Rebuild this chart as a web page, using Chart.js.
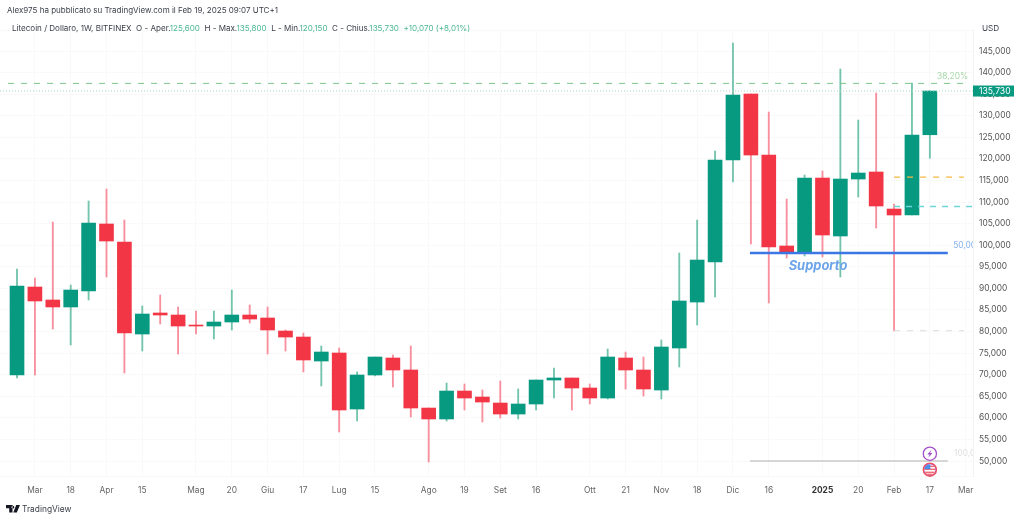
<!DOCTYPE html>
<html lang="it">
<head>
<meta charset="utf-8">
<title>Litecoin / Dollaro, 1W, BITFINEX</title>
<script src="https://cdn.jsdelivr.net/npm/chart.js@4"></script>
<style>
  html, body { margin: 0; padding: 0; background: #fff; }
  #wrap { position: relative; width: 1024px; height: 521px; overflow: hidden; font-family: Inter, "Noto Sans", sans-serif; color: #3a3e48; }
  #wrap canvas { position: absolute; left: 0; top: 0; }
  .line { position: absolute; white-space: pre; }
  #author { left: 7px; top: 4px; font-size: 8px; line-height: 13px; }
  #legend { left: 12px; top: 22px; font-size: 8.05px; line-height: 13px; }
  #legend span { color: #4cb894; }
  #usd { left: 982px; top: 22px; font-size: 8.2px; line-height: 13px; }
  #brand { left: 22px; top: 502px; font-size: 8.4px; line-height: 14px; }
  #logo { position: absolute; left: 6px; top: 505px; }
</style>
</head>
<body>
<div id="wrap">
  <canvas id="chart" width="1024" height="521"></canvas>
  <div class="line" id="author">Alex975 ha pubblicato su TradingView.com il Feb 19, 2025 09:07 UTC+1</div>
  <div class="line" id="legend">Litecoin / Dollaro, 1W, BITFINEX  O - Aper.<span>125,600</span>  H - Max.<span>135,800</span>  L - Min.<span>120,150</span>  C - Chius.<span>135,730</span>  <span>+10,070 (+8,01%)</span></div>
  <div class="line" id="usd">USD</div>
  <svg id="logo" width="14" height="8" viewBox="0 0 14 8"><path d="M0 0h6.5v7.5H3.2V3.2H0zM6.9 0.8a1.4 1.4 0 1 0 0.01 0zM10.2 0H14L10.8 7.5H7.3z" fill="#131722"/></svg>
  <div class="line" id="brand">TradingView</div>
</div>
<script>
const candleOpen = [69.93, 90.32, 87.31, 85.69, 89.39, 104.92, 100.75, 79.43, 84.3, 83.83, 81.51, 81.28, 82.21, 83.83, 83.14, 80.12, 78.73, 73.17, 75.03, 62.05, 69.93, 73.87, 71.09, 62.28, 59.74, 66.22, 64.83, 63.44, 60.89, 63.21, 68.77, 69.24, 66.92, 64.6, 73.87, 71.09, 66.45, 76.19, 86.84, 96.11, 119.74, 135.04, 120.9, 99.82, 98.43, 115.57, 102.14, 115.34, 116.97, 108.39, 107.0, 125.6];
const candleHigh = [94.49, 92.4, 105.38, 90.78, 110.25, 113.03, 105.84, 85.92, 88.47, 85.69, 84.76, 84.76, 89.62, 86.15, 85.69, 80.36, 79.66, 76.65, 76.19, 70.63, 74.1, 74.56, 76.65, 62.28, 68.08, 67.85, 66.45, 68.54, 66.69, 68.77, 71.55, 69.24, 67.85, 75.95, 75.26, 74.1, 78.04, 98.2, 105.84, 121.83, 146.85, 135.04, 130.87, 110.71, 116.27, 117.2, 140.83, 129.01, 135.27, 109.55, 137.59, 135.8];
const candleLow = [69.24, 69.93, 80.59, 76.88, 87.31, 92.64, 70.39, 75.49, 81.75, 74.8, 79.43, 78.27, 80.36, 81.98, 74.8, 75.49, 70.63, 67.38, 56.72, 59.27, 69.7, 67.15, 60.2, 49.77, 59.27, 61.82, 59.04, 59.97, 59.74, 61.82, 64.6, 61.82, 63.21, 64.37, 66.69, 65.06, 64.37, 71.78, 81.51, 88.0, 114.65, 100.28, 86.61, 97.04, 97.5, 97.27, 92.64, 111.17, 103.99, 80.12, 107.0, 120.15];
const candleClose = [90.55, 87.08, 85.69, 89.62, 105.15, 100.98, 79.66, 84.06, 83.83, 81.28, 81.28, 82.21, 83.83, 82.9, 80.36, 78.73, 73.41, 75.26, 61.82, 69.93, 74.1, 71.09, 62.28, 59.74, 66.22, 64.6, 63.67, 60.89, 63.21, 68.77, 69.24, 66.92, 64.6, 74.1, 71.09, 66.69, 76.42, 87.08, 96.57, 119.74, 134.8, 120.9, 99.59, 98.43, 115.57, 102.37, 115.34, 116.73, 109.09, 107.0, 125.54, 135.73];

const xTickIndexes = [1, 3, 5, 7, 10, 12, 14, 16, 18, 20, 23, 25, 27, 29, 32, 34, 36, 38, 40, 42, 45, 47, 49, 51, 53];
const xTickLabels = ["Mar", "18", "Apr", "15", "Mag", "20", "Giu", "17", "Lug", "15", "Ago", "19", "Set", "16", "Ott", "21", "Nov", "18", "Dic", "16", "2025", "20", "Feb", "17", "Mar"];

const levelValues = [137.5, 135.73, 115.8, 109, 80.2, 98.2, 50];
const levelStarts = [-0.5, -0.95, 49, 49, 49, 40.95, 40.95];
const levelEnds = [53.1, 53.41, 52.9, 53.41, 52.9, 52, 52];
const levelLabels = ["38,20%", "50,00%", "100,00%", "Supporto"];
const levelLabelX = [51.4, 52.3, 52.35, 44.75];
const levelLabelY = [139.2, 100.05, 51.7, 95.2];

const lastPrice = 135.73;
const eventIndex = 51;
const eventValues = [51.7, 48];

const UP = "#089981";
const DOWN = "#f23645";
const UP_WICK = "#74c4ad";
const DOWN_WICK = "#f78f9c";

const levelStyles = [
  { color: "#7cc48a", width: 1, dash: [6, 7] },
  { color: "#a6d8c6", width: 1, dash: [1, 2] },
  { color: "#f5b942", width: 1.2, dash: [6, 7] },
  { color: "#6fd4dc", width: 1.5, dash: [6, 6] },
  { color: "#dcdcdc", width: 1, dash: [6, 7] },
  { color: "#3a76e4", width: 2.5, dash: [] },
  { color: "#c9c9c9", width: 1.5, dash: [] }
];
const labelStyles = [
  { color: "#a6d8a8", font: "8.4px Inter" },
  { color: "#86b2ee", font: "8.4px Inter" },
  { color: "#dedede", font: "8.4px Inter" },
  { color: "#6ba4ea", font: "italic bold 12.9px Inter" }
];

function formatPrice(value) {
  return value.toFixed(3).replace(".", ",");
}

function isUp(index) {
  return candleClose[index] >= candleOpen[index];
}

const wickData = candleHigh.map((high, index) => ({ x: index, y: [candleLow[index], high] }));
const bodyData = candleOpen.map((open, index) => ({ x: index, y: [open, candleClose[index]] }));

const levelDatasets = levelValues.map((value, index) => ({
  type: "line",
  data: [{ x: levelStarts[index], y: value }, { x: levelEnds[index], y: value }],
  borderColor: levelStyles[index].color,
  borderWidth: levelStyles[index].width,
  borderDash: levelStyles[index].dash,
  pointRadius: 0,
  order: 1
}));

function drawLightning(ctx, x, y) {
  ctx.fillStyle = "#a24fc8";
  ctx.beginPath();
  ctx.moveTo(x + 1.6, y - 4);
  ctx.lineTo(x - 2.6, y + 0.8);
  ctx.lineTo(x - 0.3, y + 0.8);
  ctx.lineTo(x - 1.6, y + 4);
  ctx.lineTo(x + 2.6, y - 0.8);
  ctx.lineTo(x + 0.3, y - 0.8);
  ctx.closePath();
  ctx.fill();
}

function drawFlag(ctx, x, y) {
  ctx.save();
  ctx.beginPath();
  ctx.arc(x, y, 5.5, 0, Math.PI * 2);
  ctx.clip();
  ctx.fillStyle = "#fff";
  ctx.fillRect(x - 6, y - 6, 12, 12);
  ctx.fillStyle = "#f0525f";
  [-4, -1, 2, 4].forEach((offset) => ctx.fillRect(x - 6, y + offset, 12, 1.2));
  ctx.fillStyle = "#4a90e8";
  ctx.fillRect(x - 6, y - 6, 6.5, 5.5);
  ctx.restore();
}

const overlayPlugin = {
  id: "overlay",
  afterDatasetsDraw(chart) {
    const { ctx, chartArea, scales } = chart;
    const xScale = scales.x;
    const yScale = scales.y;

    ctx.save();
    ctx.beginPath();
    ctx.rect(chartArea.left, chartArea.top, chartArea.width, chartArea.height);
    ctx.clip();
    ctx.textBaseline = "middle";
    levelLabels.forEach((label, index) => {
      ctx.fillStyle = labelStyles[index].color;
      ctx.font = labelStyles[index].font;
      ctx.textAlign = index === 3 ? "center" : "left";
      ctx.fillText(label, xScale.getPixelForValue(levelLabelX[index]), yScale.getPixelForValue(levelLabelY[index]));
    });
    ctx.restore();

    const eventX = xScale.getPixelForValue(eventIndex);
    const boltY = yScale.getPixelForValue(eventValues[0]);
    const flagY = yScale.getPixelForValue(eventValues[1]);
    ctx.save();
    ctx.lineWidth = 1.3;
    ctx.fillStyle = "#fff";
    ctx.strokeStyle = "#a24fc8";
    ctx.beginPath();
    ctx.arc(eventX, boltY, 6.6, 0, Math.PI * 2);
    ctx.fill();
    ctx.stroke();
    drawLightning(ctx, eventX, boltY);
    ctx.strokeStyle = "#f0525f";
    ctx.beginPath();
    ctx.arc(eventX, flagY, 6.6, 0, Math.PI * 2);
    ctx.fill();
    ctx.stroke();
    drawFlag(ctx, eventX, flagY);
    ctx.restore();

    const priceY = yScale.getPixelForValue(lastPrice);
    ctx.save();
    ctx.fillStyle = UP;
    ctx.fillRect(chartArea.right, priceY - 5.5, 41, 11);
    ctx.fillStyle = "#fff";
    ctx.font = "8.6px Inter";
    ctx.textAlign = "left";
    ctx.textBaseline = "middle";
    ctx.fillText(formatPrice(lastPrice), chartArea.right + 6, priceY + 0.5);
    ctx.restore();
  }
};

new Chart(document.getElementById("chart").getContext("2d"), {
  data: {
    datasets: [
      {
        type: "bar",
        data: wickData,
        backgroundColor: (context) => (isUp(context.dataIndex) ? UP_WICK : DOWN_WICK),
        barThickness: 1.2,
        borderWidth: 0,
        borderSkipped: false,
        grouped: false,
        order: 3
      },
      {
        type: "bar",
        data: bodyData,
        backgroundColor: (context) => (isUp(context.dataIndex) ? UP : DOWN),
        barThickness: 14,
        borderWidth: 0,
        borderSkipped: false,
        grouped: false,
        order: 2
      },
      ...levelDatasets
    ]
  },
  options: {
    responsive: false,
    animation: false,
    layout: { padding: { top: 30, left: 0, right: 0, bottom: 0 } },
    plugins: { legend: { display: false }, tooltip: { enabled: false } },
    scales: {
      x: {
        type: "linear",
        min: -0.95,
        max: 53.41,
        offset: false,
        afterBuildTicks(scale) {
          scale.ticks = xTickIndexes.map((value) => ({ value }));
        },
        afterFit(scale) {
          scale.height = 45;
        },
        grid: { color: "#f9f9f9", drawTicks: false, offset: false },
        border: { display: false },
        ticks: {
          autoSkip: false,
          maxRotation: 0,
          padding: 9,
          color: (context) => (xTickLabels[context.index] === "2025" ? "#333" : "#666"),
          font: (context) => ({
            family: "Inter",
            size: 8.4,
            weight: xTickLabels[context.index] === "2025" ? "bold" : "normal"
          }),
          callback: (value, index) => xTickLabels[index]
        }
      },
      y: {
        position: "right",
        min: 46.53,
        max: 149.87,
        afterFit(scale) {
          scale.width = 51;
        },
        grid: { color: "#f9f9f9", drawTicks: false },
        border: { color: "#f3f3f3" },
        ticks: {
          stepSize: 5,
          padding: 6,
          color: "#555",
          font: { family: "Inter", size: 8.4 },
          callback: (value) => (value >= 50 && value <= 145 ? formatPrice(value) : "")
        }
      }
    }
  },
  plugins: [overlayPlugin]
});
</script>
</body>
</html>
